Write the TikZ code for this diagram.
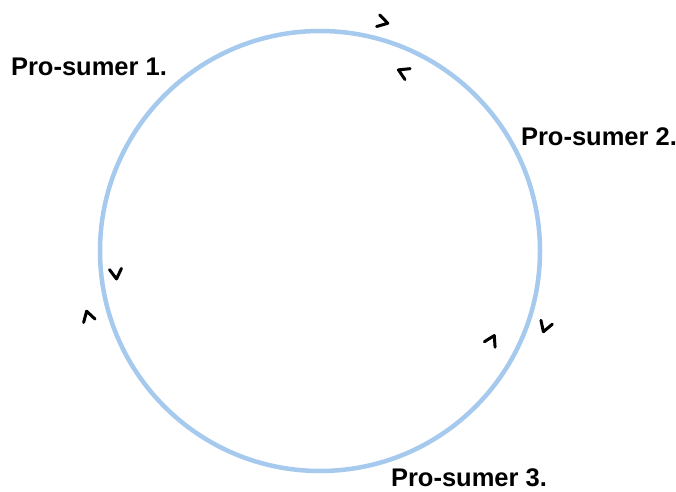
\documentclass[tikz,border=0pt]{standalone}
\usepackage{fontspec}
\setmainfont{Liberation Sans}
\definecolor{ringblue}{HTML}{A6C9EE}
\begin{document}
\begin{tikzpicture}[x=1pt,y=1pt,
  ring/.style={draw=ringblue,line width=4.5pt},
  lbl/.style={font=\bfseries\fontsize{25.5}{30}\selectfont,inner sep=0pt},
  chev/.style={draw=black,line width=3pt,line cap=round,line join=round}]
\useasboundingbox (0,0) rectangle (676,491);
\coordinate (c) at (320,240);
\draw[ring] (c) circle (220);
\node[lbl] (p1) at (89,424) {Pro-sumer 1.};
\node[lbl] (p2) at (599,354) {Pro-sumer 2.};
\node[lbl] (p3) at (469,13) {Pro-sumer 3.};
\foreach \x/\y/\a in {383/469/-15, 403/419/155, 116/217/276, 88/175/106, 492/151/63, 545/164/-109}{
  \draw[chev,shift={(\x,\y)},rotate=\a] (-5,6) -- (5,0) -- (-5,-6);
}
\end{tikzpicture}
\end{document}
